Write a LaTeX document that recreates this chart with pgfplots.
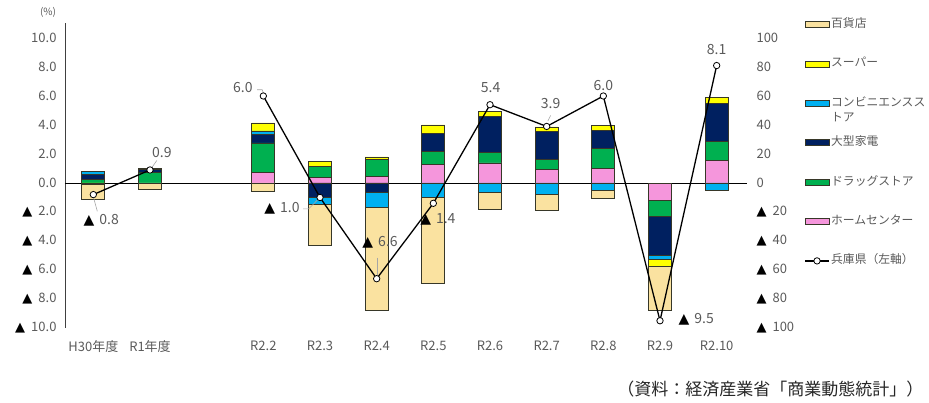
\documentclass[border=0pt]{standalone}
\usepackage{pgfplots}
\pgfplotsset{compat=1.18}
\usepackage{pgfplotstable}
\usepackage{fontspec}
\setmainfont{Noto Sans CJK JP}
\newfontfamily\symfont{DejaVu Sans}
\newcommand{\tri}{{\color{black}\symfont ▲}}
\definecolor{dept}{RGB}{250,226,160}
\definecolor{super}{RGB}{255,255,0}
\definecolor{conv}{RGB}{0,176,240}
\definecolor{elec}{RGB}{0,32,96}
\definecolor{drug}{RGB}{0,176,80}
\definecolor{home}{RGB}{245,150,220}
\definecolor{txtgray}{RGB}{90,90,90}
\definecolor{edge}{RGB}{55,55,40}

% positive contributions (stacked upward from 0)
\pgfplotstableread{
x  home  drug  elec  conv  super dept
0  0     0.25  0.35  0.20  0     0
1  0     0.72  0.23  0.05  0     0
3  0.73  2.03  0.60  0.23  0.55  0
4  0.41  0.76  0     0     0.30  0
5  0.45  1.15  0     0     0.20  0
6  1.26  0.94  1.20  0     0.60  0
7  1.38  0.71  2.53  0     0.34  0
8  0.94  0.69  1.90  0     0.34  0
9  1.03  1.34  1.27  0     0.34  0
10 0     0     0     0     0     0
11 1.56  1.33  2.60  0     0.39  0
}\postab

% negative contributions (stacked downward from 0)
\pgfplotstableread{
x  home  drug  elec   conv   super  dept
0  0     0     0      0      -0.12  -1.00
1  0     0     0      0      0      -0.42
3  0     0     0      0      0      -0.55
4  0     0     -0.97  -0.53  0      -2.83
5  0     0     -0.62  -1.05  0      -7.10
6  0     0     0      -0.97  0      -5.93
7  0     0     0      -0.62  0      -1.22
8  0     0     0      -0.76  0      -1.14
9  0     0     0      -0.51  0      -0.52
10 -1.20 -1.10 -2.67  -0.28  -0.48  -3.08
11 0     0     0      -0.53  0      0
}\negtab

\tikzset{barst/.style={draw=edge, line width=0.7pt},
  lbl/.style={font=\fontsize{14}{16}\selectfont, text=txtgray, inner sep=0pt},
  lead/.style={draw=gray!70, line width=0.6pt}}

\begin{document}
\begin{tikzpicture}[x=1pt,y=1pt]
\path[use as bounding box] (0,0) rectangle (929,403);
\pgfplotsset{base/.style={scale only axis, width=680pt, height=304.5pt,
  at={(65pt,75pt)}, anchor=south west, xmin=-0.5, xmax=11.5, clip=false}}

% axis 1: positive bars, left axis, categories
\begin{axis}[base, ymin=-10, ymax=11, ybar stacked, bar width=23pt,
  axis y line*=left, axis x line*=bottom,
  x axis line style={draw=none},
  y axis line style={-, draw=black!75, line width=0.8pt},
  major tick length=0pt,
  xtick={0,1,3,4,5,6,7,8,9,10,11},
  xticklabels={H30年度,R1年度,R2.2,R2.3,R2.4,R2.5,R2.6,R2.7,R2.8,R2.9,R2.10},
  ytick={-10,-8,-6,-4,-2,0,2,4,6,8,10},
  yticklabels={{\tri\hspace{6pt}10.0},{\tri\hspace{6pt}8.0},{\tri\hspace{6pt}6.0},{\tri\hspace{6pt}4.0},{\tri\hspace{6pt}2.0},0.0,2.0,4.0,6.0,8.0,10.0},
  tick label style={font=\fontsize{13}{15}\selectfont, text=txtgray},
  yticklabel style={xshift=-5pt},
  xticklabel style={yshift=-9pt}]
\draw[black, line width=0.7pt] (axis cs:-0.5,0) -- (axis cs:11.53,0);
\addplot[barst, fill=home]  table[x=x,y=home]{\postab};
\addplot[barst, fill=drug]  table[x=x,y=drug]{\postab};
\addplot[barst, fill=elec]  table[x=x,y=elec]{\postab};
\addplot[barst, fill=conv]  table[x=x,y=conv]{\postab};
\addplot[barst, fill=super] table[x=x,y=super]{\postab};
\addplot[barst, fill=dept]  table[x=x,y=dept]{\postab};
\end{axis}

% axis 2: negative bars
\begin{axis}[base, ymin=-10, ymax=11, ybar stacked, bar width=23pt, hide axis]
\addplot[barst, fill=home]  table[x=x,y=home]{\negtab};
\addplot[barst, fill=drug]  table[x=x,y=drug]{\negtab};
\addplot[barst, fill=elec]  table[x=x,y=elec]{\negtab};
\addplot[barst, fill=conv]  table[x=x,y=conv]{\negtab};
\addplot[barst, fill=super] table[x=x,y=super]{\negtab};
\addplot[barst, fill=dept]  table[x=x,y=dept]{\negtab};
\end{axis}

% axis 3: Hyogo line and labels
\begin{axis}[base, ymin=-10, ymax=11, hide axis]
\draw[lead] (axis cs:0,-0.95) -- (axis cs:0.07,-1.95);
\draw[lead] (axis cs:1.03,1.05) -- (axis cs:1.12,1.55);
\draw[lead] (axis cs:2.89,6.43) -- (axis cs:2.98,6.43) -- (axis cs:3.0,6.2);
\draw[lead] (axis cs:3.70,-1.78) -- (axis cs:3.80,-1.78) -- (axis cs:3.96,-1.15);
\draw[lead] (axis cs:5.016,-5.15) -- (axis cs:5.016,-6.33);
\draw[lead] (axis cs:8.07,4.66) -- (axis cs:8.02,4.26);
\addplot[black, line width=1.3pt, mark=*, mark size=3.2pt,
  mark options={fill=white, draw=black, line width=0.8pt}]
  coordinates {(0,-0.8) (1,0.9)};
\addplot[black, line width=1.3pt, mark=*, mark size=3.2pt,
  mark options={fill=white, draw=black, line width=0.8pt}]
  coordinates {(3,6.0) (4,-1.0) (5,-6.6) (6,-1.4) (7,5.4) (8,3.9) (9,6.0) (10,-9.5) (11,8.1)};
\node[lbl] at (axis cs:0.14,-2.6) {\tri\hspace{5pt}0.8};
\node[lbl] at (axis cs:1.21,2.09) {0.9};
\node[lbl] at (axis cs:2.64,6.57) {6.0};
\node[lbl] at (axis cs:3.33,-1.75) {\tri\hspace{5pt}1.0};
\node[lbl] at (axis cs:5.06,-4.1) {\tri\hspace{5pt}6.6};
\node[lbl] at (axis cs:6.08,-2.54) {\tri\hspace{5pt}1.4};
\node[lbl] at (axis cs:7.01,6.57) {5.4};
\node[lbl] at (axis cs:8.07,5.47) {3.9};
\node[lbl] at (axis cs:9.0,6.71) {6.0};
\node[lbl] at (axis cs:10.64,-9.42) {\tri\hspace{5pt}9.5};
\node[lbl] at (axis cs:11.0,9.19) {8.1};
\end{axis}

% axis 4: right axis and legend
\begin{axis}[base, ymin=-100, ymax=110,
  axis y line*=right, axis x line=none,
  y axis line style={draw=none}, major tick length=0pt,
  ytick={-100,-80,-60,-40,-20,0,20,40,60,80,100},
  yticklabels={{\tri\hspace{6pt}100},{\tri\hspace{6pt}80},{\tri\hspace{6pt}60},{\tri\hspace{6pt}40},{\tri\hspace{6pt}20},0,20,40,60,80,100},
  tick label style={font=\fontsize{13}{15}\selectfont, text=txtgray},
  yticklabel style={xshift=8pt},
  legend cell align=left,
  legend style={draw=none, fill=none, inner sep=0pt, at={(1.087,1.022)}, anchor=north west,
    row sep=24.4pt, font=\fontsize{11.8}{15}\selectfont, text=txtgray,
    nodes={text height=9pt, text depth=3pt, inner sep=1.5pt}}]
\addlegendimage{legend image code/.code={\draw[barst, fill=dept] (0pt,-3pt) rectangle (24pt,3pt);}}
\addlegendentry{百貨店}
\addlegendimage{legend image code/.code={\draw[barst, fill=super] (0pt,-3pt) rectangle (24pt,3pt);}}
\addlegendentry{スーパー}
\addlegendimage{legend image code/.code={\draw[barst, fill=conv] (0pt,-3pt) rectangle (24pt,3pt);}}
\addlegendentry{\begin{tabular}[t]{@{}l@{}}コンビニエンスス\\トア\end{tabular}}
\addlegendimage{legend image code/.code={\draw[barst, fill=elec] (0pt,-3pt) rectangle (24pt,3pt);}}
\addlegendentry{大型家電}
\addlegendimage{legend image code/.code={\draw[barst, fill=drug] (0pt,-3pt) rectangle (24pt,3pt);}}
\addlegendentry{ドラッグストア}
\addlegendimage{legend image code/.code={\draw[barst, fill=home] (0pt,-3pt) rectangle (24pt,3pt);}}
\addlegendentry{ホームセンター}
\addlegendimage{legend image code/.code={\draw[black, line width=1.3pt] (0pt,0pt) -- (24pt,0pt); \draw[black, fill=white, line width=0.8pt] (12pt,0pt) circle (3.2pt);}}
\addlegendentry{兵庫県（左軸）}
\end{axis}

\node[font=\fontsize{10}{12}\selectfont, text=txtgray] at (48,391) {(\%)};
\node[anchor=east, font=\fontsize{17}{20}\selectfont, text=black!85] at (927,14) {（資料：経済産業省「商業動態統計」）};
\end{tikzpicture}
\end{document}
